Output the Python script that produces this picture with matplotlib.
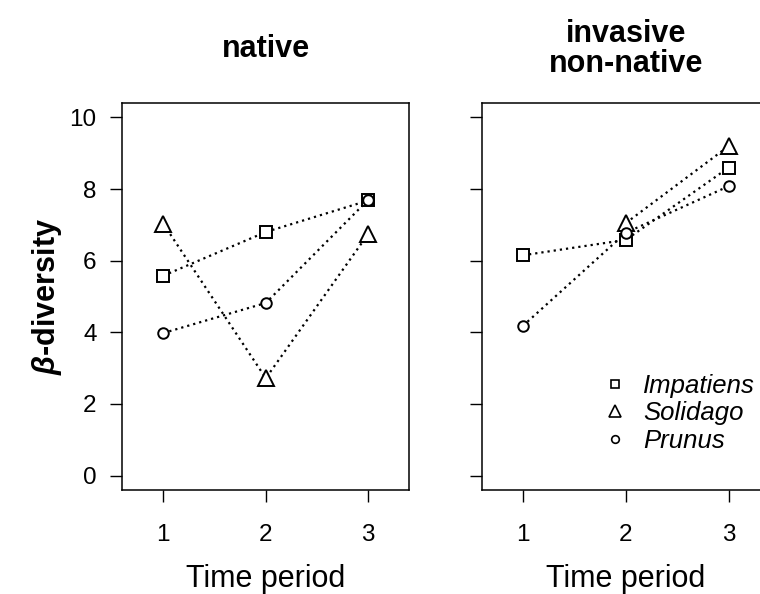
import numpy as np
import matplotlib
matplotlib.use('Agg')
import matplotlib.pyplot as plt
from matplotlib.lines import Line2D

plt.rcParams['font.family'] = ['Liberation Sans', 'DejaVu Sans']
plt.rcParams['mathtext.fontset'] = 'custom'
plt.rcParams['mathtext.bfit'] = 'Liberation Sans:italic:bold'
plt.rcParams['mathtext.rm'] = 'Liberation Sans'

# data
periods = [1, 2, 3]
species = ['Impatiens', 'Solidago', 'Prunus']
native_impatiens = [5.58, 6.80, 7.68]
native_solidago = [7.03, 2.72, 6.75]
native_prunus = [3.98, 4.82, 7.70]
invasive_impatiens = [6.15, 6.58, 8.60]
invasive_solidago = [np.nan, 7.05, 9.20]
invasive_prunus = [4.18, 6.78, 8.08]
panel_titles = ['native', 'invasive\nnon-native']
yticks = [0, 2, 4, 6, 8, 10]

markers = {'Impatiens': ('s', 8.6), 'Solidago': ('^', 11.5), 'Prunus': ('o', 7.6)}
dots = (0, (1, 1.8))


def draw_panel(ax, series, title):
    for name, vals in zip(species, series):
        m, ms = markers[name]
        ax.plot(periods, vals, color='black', lw=1.6, linestyle=dots, zorder=1)
        ax.plot(periods, vals, linestyle='none', marker=m, ms=ms,
                mfc='white', mec='black', mew=1.4, zorder=3)
    ax.set_xlim(0.6, 3.4)
    ax.set_ylim(-0.4, 10.4)
    ax.set_xticks(periods)
    ax.set_yticks(yticks)
    ax.tick_params(axis='both', direction='out', length=8.5, width=1.0,
                   labelsize=17.5, color='black')
    ax.tick_params(axis='x', pad=16)
    ax.tick_params(axis='y', pad=10)
    for s in ax.spines.values():
        s.set_linewidth(1.1)
    ax.set_xlabel('Time period', fontsize=22, labelpad=13)
    ax.text(0.5, 1.0 + 54 / 387, title, transform=ax.transAxes, ha='center',
            va='center', fontsize=22, fontweight='bold', linespacing=1.0)


fig = plt.figure(figsize=(7.6, 5.94), dpi=100)
ax1 = fig.add_axes([122.3 / 760, 104 / 594, 287 / 760, 387 / 594])
ax2 = fig.add_axes([481.7 / 760, 104 / 594, 288.3 / 760, 387 / 594])

draw_panel(ax1, [native_impatiens, native_solidago, native_prunus], panel_titles[0])
draw_panel(ax2, [invasive_impatiens, invasive_solidago, invasive_prunus], panel_titles[1])
ax2.tick_params(axis='y', labelleft=False)

ax1.set_ylabel(r'$\mathbfit{\beta}$-diversity', fontsize=22, fontweight='bold', labelpad=4)

# legend
handles = [
    Line2D([], [], linestyle='none', marker='s', ms=6.2, mfc='white', mec='black', mew=1.2),
    Line2D([], [], linestyle='none', marker='^', ms=9, mfc='white', mec='black', mew=1.2),
    Line2D([], [], linestyle='none', marker='o', ms=5.5, mfc='white', mec='black', mew=1.2),
]
ax2.legend(handles, species, loc='center left', bbox_to_anchor=(0.419, 0.198),
           frameon=False, borderpad=0, borderaxespad=0, handlelength=1.0,
           handletextpad=0.57, labelspacing=0.14,
           prop={'style': 'italic', 'size': 18.5})

fig.savefig('out.png', dpi=100)
